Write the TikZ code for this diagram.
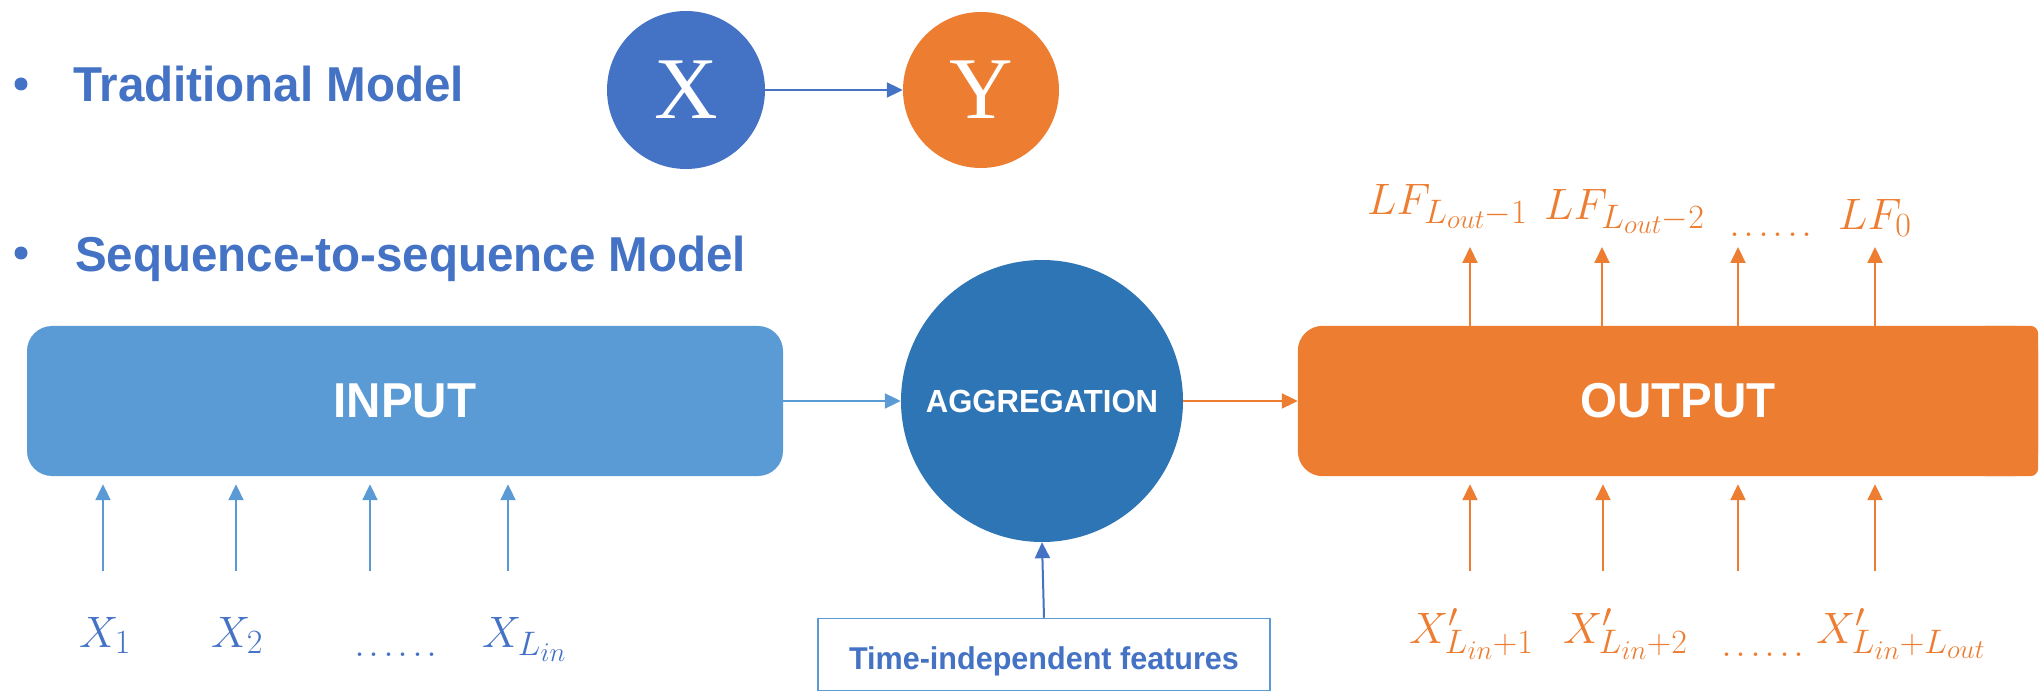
\RequirePackage{fix-cm}
\documentclass[tikz,border=0pt]{standalone}
\usepackage{fontspec}
\usetikzlibrary{arrows.meta}
\newfontfamily\headfont[FakeStretch=0.97]{Liberation Sans}
\newfontfamily\letterfont{Liberation Serif}
\definecolor{hblue}{HTML}{4472C4}
\definecolor{lblue}{HTML}{5B9BD5}
\definecolor{dblue}{HTML}{2E75B6}
\definecolor{orng}{HTML}{ED7D31}
\DeclareMathSizes{44}{44}{34}{27}
\newcommand\sixdots{.\kern3.5pt.\kern3.5pt.\kern3.5pt.\kern3.5pt.\kern3.5pt.}

\begin{document}
\begin{tikzpicture}[x=1pt,y=-1pt,
  arr/.style={line width=2pt,-{Triangle[length=16pt,width=15pt]}},
  heading/.style={anchor=base west,inner sep=0pt,text=hblue,
    font=\headfont\bfseries\fontsize{49}{55}\selectfont},
  ball/.style={circle,inner sep=0pt,text=white,
    font=\letterfont\fontsize{88}{90}\selectfont},
  bigbox/.style={rounded corners=25pt,inner sep=0pt,minimum height=150pt,
    text=white,font=\headfont\bfseries\fontsize{49}{55}\selectfont},
  lab/.style={anchor=base west,inner sep=0pt,font=\fontsize{44}{50}\selectfont},
]
\useasboundingbox (0,0) rectangle (2042,692);

% bulleted headings
\fill[hblue] (21,84) circle (6.5pt);
\fill[hblue] (21,253) circle (6.5pt);
\node[heading] (trad) at (73,102) {Traditional Model};
\node[heading] (seq) at (75,272) {Sequence-to-sequence Model};

% traditional model: X -> Y
\node[ball,fill=hblue,minimum size=158pt] (X) at (686,90) {X};
\node[ball,fill=orng,minimum size=156pt] (Y) at (981,90) {Y};
\draw[arr,hblue] (X) -- (Y);

% sequence-to-sequence pipeline
\node[bigbox,fill=lblue,minimum width=756pt] (inp) at (405,401) {INPUT};
\node[circle,fill=dblue,minimum size=282pt,inner sep=0pt,text=white,
  font=\headfont\bfseries\fontsize{32}{36}\selectfont] (agg) at (1042,401) {AGGREGATION};
\node[bigbox,minimum width=740pt] (out) at (1668,401) {};
\fill[orng,rounded corners=25pt] (out.north west) rectangle (out.south east);
\fill[orng,rounded corners=8pt] ([xshift=-60pt]out.north east) rectangle (out.south east);
\node[text=white,font=\headfont\bfseries\fontsize{49}{55}\selectfont] at (1678,401) {OUTPUT};

\node[draw=lblue,line width=1.5pt,minimum width=452pt,minimum height=72pt,
  text height=29pt,text depth=0pt,text=hblue,
  font=\headfont\bfseries\fontsize{31.5}{36}\selectfont] (tif) at (1044,654.5)
  {Time-independent features};

\draw[arr,lblue] (inp.east) -- (agg.west);
\draw[arr,orng] (agg.east) -- (out.west);
\draw[arr,hblue] (tif.north) -- (agg.south);

% input sequence
\node[lab,text=hblue] (x1) at (79,647) {$X_1$};
\node[lab,text=hblue] (x2) at (211,647) {$X_2$};
\node[lab,text=hblue] (xd) at (354,656) {\sixdots};
\node[lab,text=hblue] (xL) at (482,647) {$X_{L_{in}}$};
\foreach \n/\x in {1/103,2/236,3/370,4/508}{
  \coordinate (a\n) at (\x,571);
  \draw[arr,lblue,shorten >=8pt] (a\n) -- (a\n |- inp.south);
}

% decoder inputs
\node[lab,text=orng] (y1) at (1409,643) {$X'_{L_{in}+1}$};
\node[lab,text=orng] (y2) at (1563,643) {$X'_{L_{in}+2}$};
\node[lab,text=orng] (yd) at (1721,656) {\sixdots};
\node[lab,text=orng] (yL) at (1816,643) {$X'_{L_{in}+L_{out}}$};
\foreach \n/\x in {1/1470,2/1603,3/1738,4/1875}{
  \coordinate (b\n) at (\x,571);
  \draw[arr,orng,shorten >=8pt] (b\n) -- (b\n |- out.south);
}

% outputs
\node[lab,text=orng] (f1) at (1367,215) {$LF_{L_{out}-1}$};
\node[lab,text=orng] (f2) at (1544,220) {$LF_{L_{out}-2}$};
\node[lab,text=orng] (fd) at (1729,237) {\sixdots};
\node[lab,text=orng] (f0) at (1838,230) {$LF_0$};
\foreach \n/\x in {1/1470,2/1602,3/1738,4/1875}{
  \coordinate (c\n) at (\x,247);
  \draw[arr,orng] (c\n |- out.north) -- (c\n);
}
\end{tikzpicture}
\end{document}
